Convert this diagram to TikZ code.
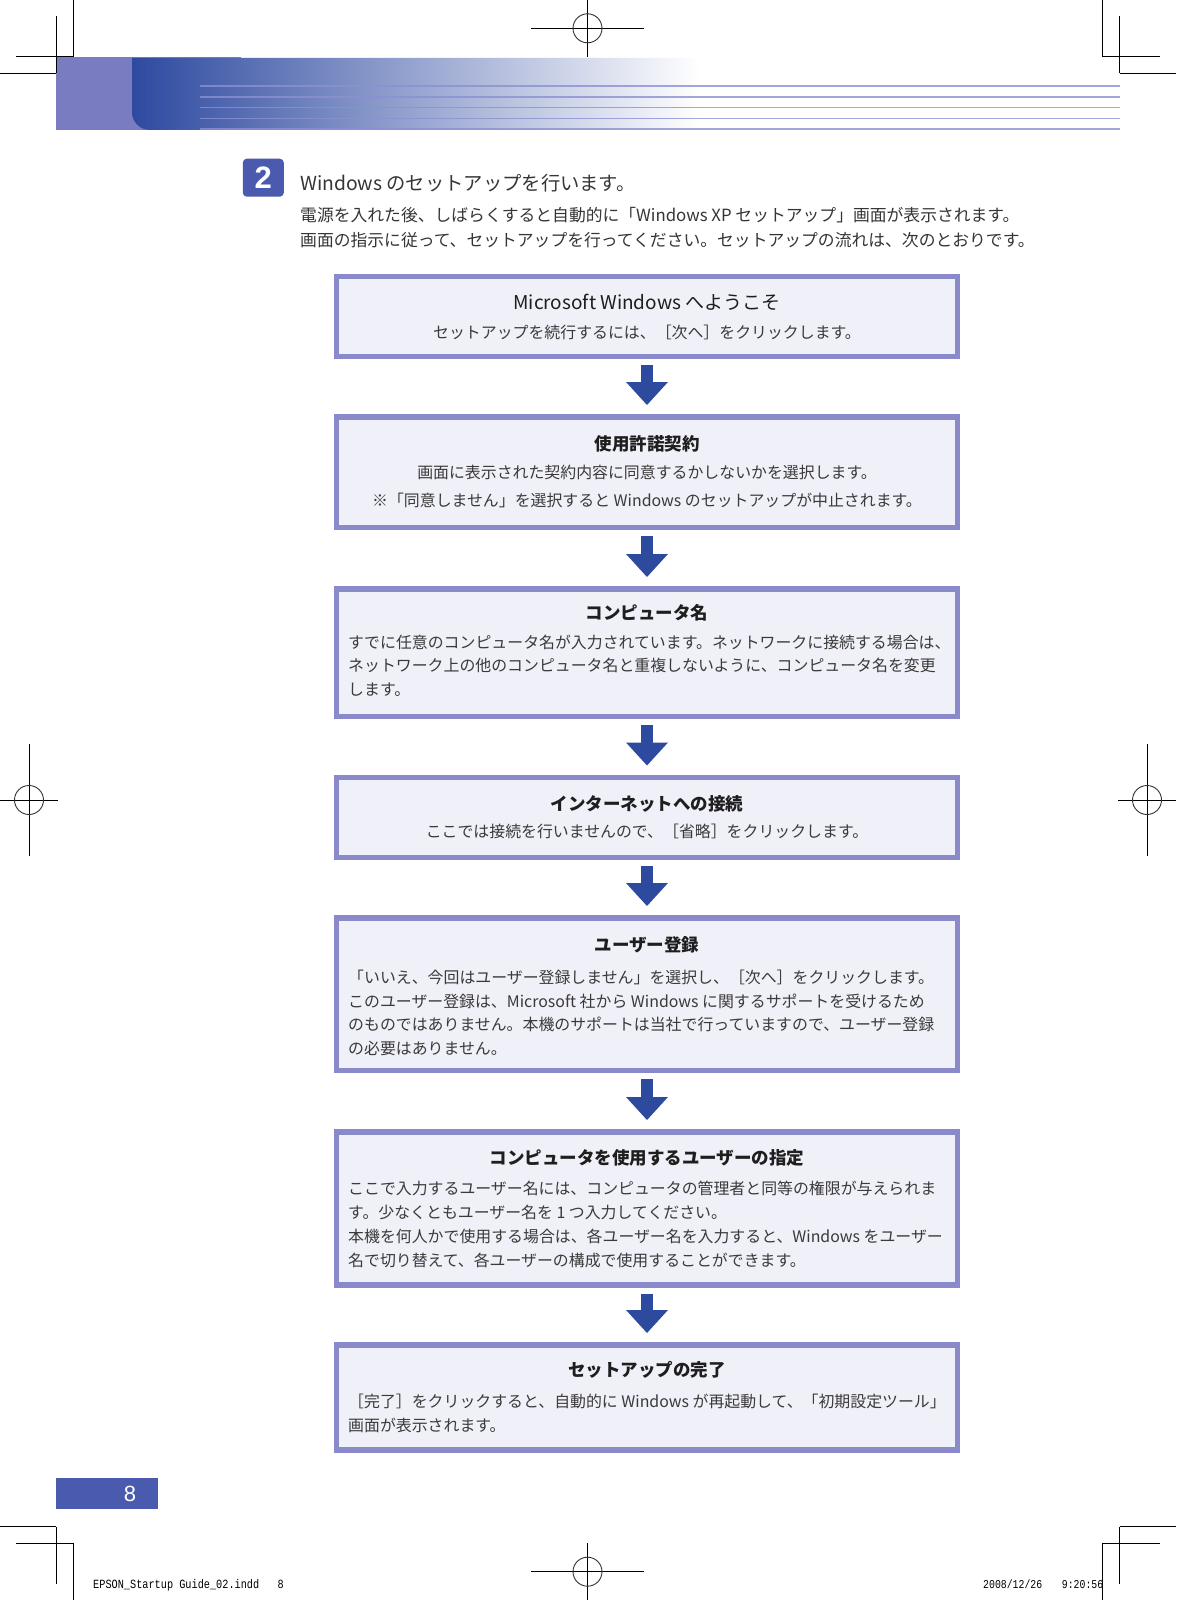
\documentclass[tikz,border=0pt]{standalone}
\usepackage{fontspec}
\usepackage{graphicx}
\usetikzlibrary{arrows.meta}
\setmainfont{Noto Sans CJK JP}
\newfontfamily\lsans{Liberation Sans}
\newfontfamily\mono{Liberation Mono}
\definecolor{bord}{HTML}{8A8ACA}
\definecolor{boxfill}{HTML}{F0F0F8}
\definecolor{arrowblue}{HTML}{2E4A9F}
\definecolor{bandlight}{HTML}{7A7CC2}
\definecolor{banddark}{HTML}{2E4AA0}
\definecolor{bandmid}{HTML}{7D82C4}
\definecolor{bandline}{HTML}{8C90D2}
\definecolor{badge}{HTML}{4A5AAE}
\definecolor{txt}{HTML}{3A3A3A}
\definecolor{ttl}{HTML}{1E1E1E}
\tikzset{
  stepbox/.style={draw=bord, fill=boxfill, line width=5.5pt, minimum width=621pt, inner sep=0pt, anchor=north},
  flowarrow/.style={draw=arrowblue, line width=12pt, -{Triangle[width=42pt,length=23pt,line width=0pt]}},
  boxtitle/.style={font=\bfseries\fontsize{17.5}{17.5}\selectfont, text=ttl, inner sep=0pt, anchor=base},
  ctrline/.style={font=\fontsize{15.9}{15.9}\selectfont, text=txt, inner sep=0pt, anchor=base},
  leftline/.style={font=\fontsize{15.9}{15.9}\selectfont, text=txt, inner sep=0pt, anchor=base west},
  introline/.style={font=\fontsize{16.8}{16.8}\selectfont, text=ttl!90, inner sep=0pt, anchor=base west},
  crop/.style={line width=1pt, black},
  footer/.style={inner sep=0pt, anchor=base west, text=black}
}
\begin{document}
\begin{tikzpicture}[x=1pt, y=-1pt]
\useasboundingbox (0,0) rectangle (1176,1600);
\fill[white] (0,0) rectangle (1176,1600);

% ---- header band ----
\fill[bandlight] (56,56.7) rectangle (241,130);
\shade[left color=banddark, middle color=bandmid, right color=white]
  (132,58) -- (700,58) -- (700,130) -- (150,130) .. controls (140,130) and (132,122) .. (132,112) -- cycle;
\foreach \yy in {86,97,107.7,118.3,129}
  \draw[bandline, opacity=0.8, line width=1.3pt] (200,\yy) -- (1119.5,\yy);

% ---- crop marks ----
\draw[crop] (73.5,0) -- (73.5,56.7) (16,56.7) -- (73.5,56.7) (56,16) -- (56,73.3) (0,73.3) -- (56,73.3);
\draw[crop] (1102.6,0) -- (1102.6,56.7) (1102.6,56.7) -- (1159.6,56.7) (1119.5,16) -- (1119.5,73.3) (1119.5,73.3) -- (1176,73.3);
\draw[crop] (73.5,1600) -- (73.5,1543.3) (16,1543.3) -- (73.5,1543.3) (56,1584) -- (56,1526.7) (0,1526.7) -- (56,1526.7);
\draw[crop] (1102.6,1600) -- (1102.6,1543.3) (1102.6,1543.3) -- (1159.6,1543.3) (1119.5,1584) -- (1119.5,1526.7) (1119.5,1526.7) -- (1176,1526.7);
% register marks
\draw[crop] (531,28.3) -- (644,28.3) (587.5,0) -- (587.5,56.7);
\draw[line width=0.9pt, black!80] (587.5,28.3) circle[radius=14.5pt];
\draw[crop] (531,1571.7) -- (644,1571.7) (587.5,1543.3) -- (587.5,1600);
\draw[line width=0.9pt, black!80] (587.5,1571.7) circle[radius=14.5pt];
\draw[crop] (0,800) -- (58,800) (29,744) -- (29,856);
\draw[line width=0.9pt, black!80] (29,800) circle[radius=14.5pt];
\draw[crop] (1118,800) -- (1176,800) (1147,744) -- (1147,856);
\draw[line width=0.9pt, black!80] (1147,800) circle[radius=14.5pt];

% ---- step heading ----
\node[fill=badge, rounded corners=4pt, minimum width=41pt, minimum height=38pt, inner sep=0pt,
      text=white, font=\lsans\bfseries\fontsize{31}{31}\selectfont] (badge) at (263.3,177.7) {2};
\node[introline, font=\fontsize{19.3}{19.3}\selectfont] (htitle) at (300,190) {Windows のセットアップを行います。};
\node[introline] (intro1) at (300,221.5) {電源を入れた後、しばらくすると自動的に「Windows XP セットアップ」画面が表示されます。};
\node[introline] (intro2) at (300,246.5) {画面の指示に従って、セットアップを行ってください。セットアップの流れは、次のとおりです。};

% ---- boxes ----
\node[stepbox, minimum height=80pt]  (b1) at (647,273.5) {};
\node[stepbox, minimum height=110.5pt] (b2) at (647,414) {};
\node[stepbox, minimum height=127.5pt] (b3) at (647,586) {};
\node[stepbox, minimum height=80pt]  (b4) at (647,774.5) {};
\node[stepbox, minimum height=152.5pt] (b5) at (647,915) {};
\node[stepbox, minimum height=153pt] (b6) at (647,1129) {};
\node[stepbox, minimum height=105pt] (b7) at (647,1342) {};

% ---- arrows ----
\draw[flowarrow] ([yshift=-6pt]b1.south) -- ([yshift=9pt]b2.north);
\draw[flowarrow] ([yshift=-6pt]b2.south) -- ([yshift=9pt]b3.north);
\draw[flowarrow] ([yshift=-6pt]b3.south) -- ([yshift=9pt]b4.north);
\draw[flowarrow] ([yshift=-6pt]b4.south) -- ([yshift=9pt]b5.north);
\draw[flowarrow] ([yshift=-6pt]b5.south) -- ([yshift=9pt]b6.north);
\draw[flowarrow] ([yshift=-6pt]b6.south) -- ([yshift=9pt]b7.north);

% ---- box texts ----
\node[boxtitle, font=\fontsize{19}{19}\selectfont] (t1) at (647,309) {Microsoft Windows へようこそ};
\node[ctrline] (t1a) at (647,338) {セットアップを続行するには、［次へ］をクリックします。};

\node[boxtitle] (t2) at (647,450) {使用許諾契約};
\node[ctrline] (t2a) at (647,478) {画面に表示された契約内容に同意するかしないかを選択します。};
\node[ctrline] (t2b) at (647,506) {※「同意しません」を選択すると Windows のセットアップが中止されます。};

\node[boxtitle] (t3) at (647,619) {コンピュータ名};
\node[leftline] (t3a) at (348,648) {すでに任意のコンピュータ名が入力されています。ネットワークに接続する場合は、};
\node[leftline] (t3b) at (348,671.5) {ネットワーク上の他のコンピュータ名と重複しないように、コンピュータ名を変更};
\node[leftline] (t3c) at (348,695) {します。};

\node[boxtitle] (t4) at (647,810) {インターネットへの接続};
\node[ctrline] (t4a) at (647,837.5) {ここでは接続を行いませんので、［省略］をクリックします。};

\node[boxtitle] (t5) at (647,951) {ユーザー登録};
\node[leftline] (t5a) at (348,983.5) {「いいえ、今回はユーザー登録しません」を選択し、［次へ］をクリックします。};
\node[leftline] (t5b) at (348,1007) {このユーザー登録は、Microsoft 社から Windows に関するサポートを受けるため};
\node[leftline] (t5c) at (348,1030.5) {のものではありません。本機のサポートは当社で行っていますので、ユーザー登録};
\node[leftline] (t5d) at (348,1054) {の必要はありません。};

\node[boxtitle] (t6) at (647,1164) {コンピュータを使用するユーザーの指定};
\node[leftline] (t6a) at (348,1194) {ここで入力するユーザー名には、コンピュータの管理者と同等の権限が与えられま};
\node[leftline] (t6b) at (348,1218) {す。少なくともユーザー名を 1 つ入力してください。};
\node[leftline] (t6c) at (348,1242) {本機を何人かで使用する場合は、各ユーザー名を入力すると、Windows をユーザー};
\node[leftline] (t6d) at (348,1266) {名で切り替えて、各ユーザーの構成で使用することができます。};

\node[boxtitle] (t7) at (647,1376.6) {セットアップの完了};
\node[leftline] (t7a) at (348,1407) {［完了］をクリックすると、自動的に Windows が再起動して、「初期設定ツール」};
\node[leftline] (t7b) at (348,1431) {画面が表示されます。};

% ---- page number ----
\fill[badge] (56,1478) rectangle (158,1509);
\node[text=white, inner sep=0pt, font=\lsans\fontsize{22}{22}\selectfont] (pnum) at (130,1494) {8};

% ---- footer ----
\node[footer] (fl) at (93,1588) {\scalebox{0.82}[1]{\mono\fontsize{12.5}{12.5}\selectfont EPSON\_Startup Guide\_02.indd\hspace{1.8em}8}};
\node[footer] (fr) at (983,1588) {\scalebox{0.82}[1]{\mono\fontsize{12}{12}\selectfont 2008/12/26\hspace{2em}9:20:56}};
\end{tikzpicture}
\end{document}
